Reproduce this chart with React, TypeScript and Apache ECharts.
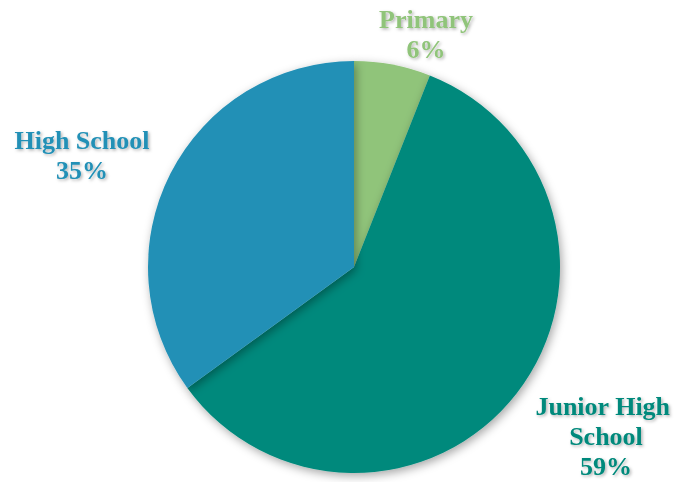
import React, { useEffect, useRef } from "react";
import * as echarts from "echarts";

const categories = ["Primary", "Junior High School", "High School"];
const values = [6, 59, 35];
const colors = ["#90C47A", "#00897B", "#2290B6"];
const labelSpots: [number, number][] = [
  [426, 34],
  [606, 436],
  [82, 155],
];

export default function App() {
  const ref = useRef<HTMLDivElement>(null);
  useEffect(() => {
    document.body.style.margin = "0";
    const chart = echarts.init(ref.current!, null, { renderer: "svg" });
    chart.setOption({
      animation: false,
      backgroundColor: "#ffffff",
      series: [
        {
          type: "pie",
          center: [354, 267],
          radius: [0, 206],
          startAngle: 90,
          clockwise: true,
          data: categories.map((name, i) => ({
            name,
            value: values[i],
            itemStyle: { color: colors[i] },
            label: { color: colors[i] },
          })),
          itemStyle: {
            shadowBlur: 10,
            shadowColor: "rgba(0,0,0,0.35)",
            shadowOffsetX: 2,
            shadowOffsetY: 3,
          },
          label: {
            show: true,
            position: "outside",
            formatter: "{b}\n{d}%",
            fontFamily: "'Liberation Serif', 'Times New Roman', serif",
            fontWeight: "bold",
            fontSize: 26,
            lineHeight: 30,
            align: "center",
            width: 150,
            overflow: "break",
            textShadowColor: "rgba(0,0,0,0.3)",
            textShadowBlur: 3,
            textShadowOffsetX: 1.5,
            textShadowOffsetY: 1.5,
          },
          labelLine: { show: false },
          labelLayout: (p: any) => ({
            x: labelSpots[p.dataIndex][0],
            y: labelSpots[p.dataIndex][1],
            align: "center",
            verticalAlign: "middle",
          }),
          emphasis: { disabled: true },
        },
      ],
    });
    return () => chart.dispose();
  }, []);
  return <div ref={ref} style={{ width: 679, height: 482 }} />;
}
